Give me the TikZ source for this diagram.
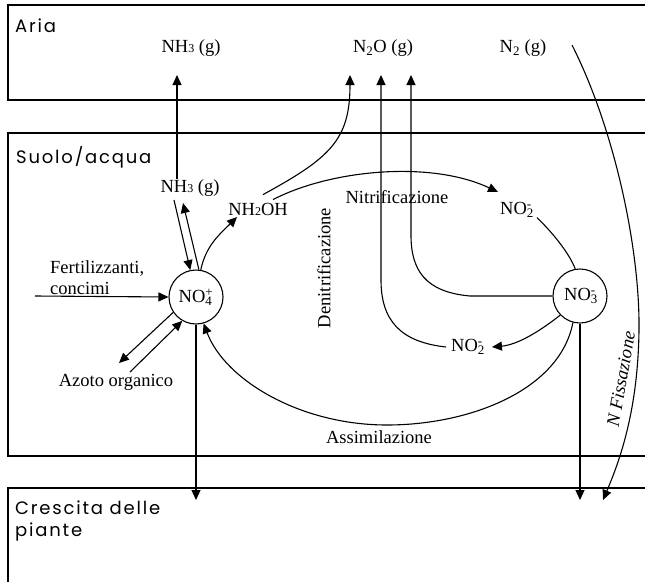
\documentclass[tikz,border=0pt]{standalone}
\usepackage{fontspec}
\setmainfont{Liberation Serif}
\newfontfamily\zonefont[LetterSpace=10]{Poppins}
\usetikzlibrary{arrows.meta}

% stacked subscript/superscript for ions
\newcommand\ionss[2]{\rlap{\textsubscript{#1}}\textsuperscript{#2}}
% small baseline digit as in "NH3"
\newcommand\smalldig[1]{{\fontsize{12}{12}\selectfont #1}}

\tikzset{
  frame/.style={line width=1.1pt},
  flow/.style={line width=1.1pt},
  arr/.style={flow, -{Triangle[length=10pt,width=9pt]}},
  chem/.style={font=\fontsize{18.5}{21}\selectfont, inner sep=0pt},
  pool/.style={circle, draw, line width=1.1pt, minimum size=54pt, inner sep=0pt,
               font=\fontsize{18.5}{21}\selectfont},
  zone/.style={font=\zonefont\fontsize{18}{22}\selectfont, anchor=north west,
               inner sep=0pt, align=left}
}

\begin{document}
\begin{tikzpicture}[x=1pt,y=-1pt]
\useasboundingbox (0,0) rectangle (645,581);

% compartments (open on the right)
\draw[frame] (650,5) -- (8,5) -- (8,100) -- (650,100);
\draw[frame] (650,133) -- (8,133) -- (8,456) -- (650,456);
\draw[frame] (650,488) -- (8,488) -- (8,590);

\node[zone] (aria) at (15,19) {Aria};
\node[zone] (suolo) at (16,146) {Suolo/acqua};
\node[zone] (crescita) at (15,501) {Crescita delle\\piante};

% air
\node[chem] (nh3air) at (191,48) {NH\smalldig{3} (g)};
\node[chem] (n2oair) at (383,48) {N\textsubscript{2}O (g)};
\node[chem] (n2air)  at (523,48) {N\textsubscript{2} (g)};

% soil / water
\node[chem] (nh3soil) at (190,188) {NH\smalldig{3} (g)};
\node[chem] (nh2oh) at (258,209) {NH\smalldig{2}OH};
\node[pool] (no4) at (196,297) {NO\ionss{4}{+}};
\node[pool] (no3) at (580,296) {NO\ionss{3}{-}};
\node[chem] (no2up) at (516,210) {NO\ionss{2}{-}};
\node[chem] (no2lo) at (467,347) {NO\ionss{2}{-}};
\node[chem] (nitri) at (397,197) {Nitrificazione};
\node[chem, rotate=90] (denitri) at (324,268) {Denitrificazione};
\node[chem] (assim) at (379,437) {Assimilazione};
\node[chem, align=left, anchor=west] (fert) at (50,278) {Fertilizzanti,\\concimi};
\node[chem] (azoto) at (116,382) {Azoto organico};
\node[chem, rotate=80, font=\itshape\fontsize{18.5}{21}\selectfont] (fiss) at (621,379) {N Fissazione};

% free ends
\coordinate (nh3tip) at (177,75);
\coordinate (n2oL) at (350,75);
\coordinate (n2oM) at (381,75);
\coordinate (n2oR) at (411,75);
\coordinate (plantL) at (196,500);
\coordinate (plantM) at (580,500);
\coordinate (plantR) at (603,500);
\coordinate (fertin) at (35,296);
\coordinate (n2start) at (572,45);

% volatilisation of ammonia
\draw[arr] (nh3soil.north -| nh3tip) -- (nh3tip);
\draw[arr] (174,200) -- (no4.102);
\draw[arr] (no4.84) -- (183,203);

% fertilisers and organic nitrogen
\draw[arr] (fertin) -- (no4.west);
\draw[arr] (no4.214) -- (119,363);
\draw[arr] (130,372) -- (no4.240);

% nitrification
\draw[arr] (no4.80) to[out=78, in=225] ([shift={(-21pt,-8pt)}]nh2oh.center);
\draw[arr] ([shift={(5pt,8pt)}]nh2oh.north) .. controls (330,158) and (350,140) .. (n2oL);
\draw[arr] ([shift={(15pt,3pt)}]nh2oh.north) .. controls (330,170) and (430,160) .. ([shift={(-18pt,18pt)}]no2up.center);
\draw[flow] ([xshift=5pt]no2up.south east) .. controls (555,235) and (570,255) .. (no3.100);

% denitrification
\draw[arr] ([xshift=-5pt]no2lo.west) .. controls (400,342) and (381,320) .. (381,280) -- (n2oM);
\draw[arr] (no3.west) -- (470,296) .. controls (425,292) and (411,270) .. (411,235) -- (n2oR);
\draw[arr] (no3.224) .. controls (535,335) and (515,345) .. ([xshift=9pt]no2lo.east);

% assimilation
\draw[arr] (no3.255) .. controls (560,390) and (470,425) .. (387,425)
                     .. controls (300,425) and (225,380) .. (no4.286);

% uptake by plants
\draw[arr] (no4.south) -- (plantL);
\draw[arr] (no3.south) -- (plantM);

% nitrogen fixation
\draw[arr] (n2start) .. controls (615,130) and (640,250) .. (639,330)
                     .. controls (638,410) and (620,460) .. (plantR);
\end{tikzpicture}
\end{document}
